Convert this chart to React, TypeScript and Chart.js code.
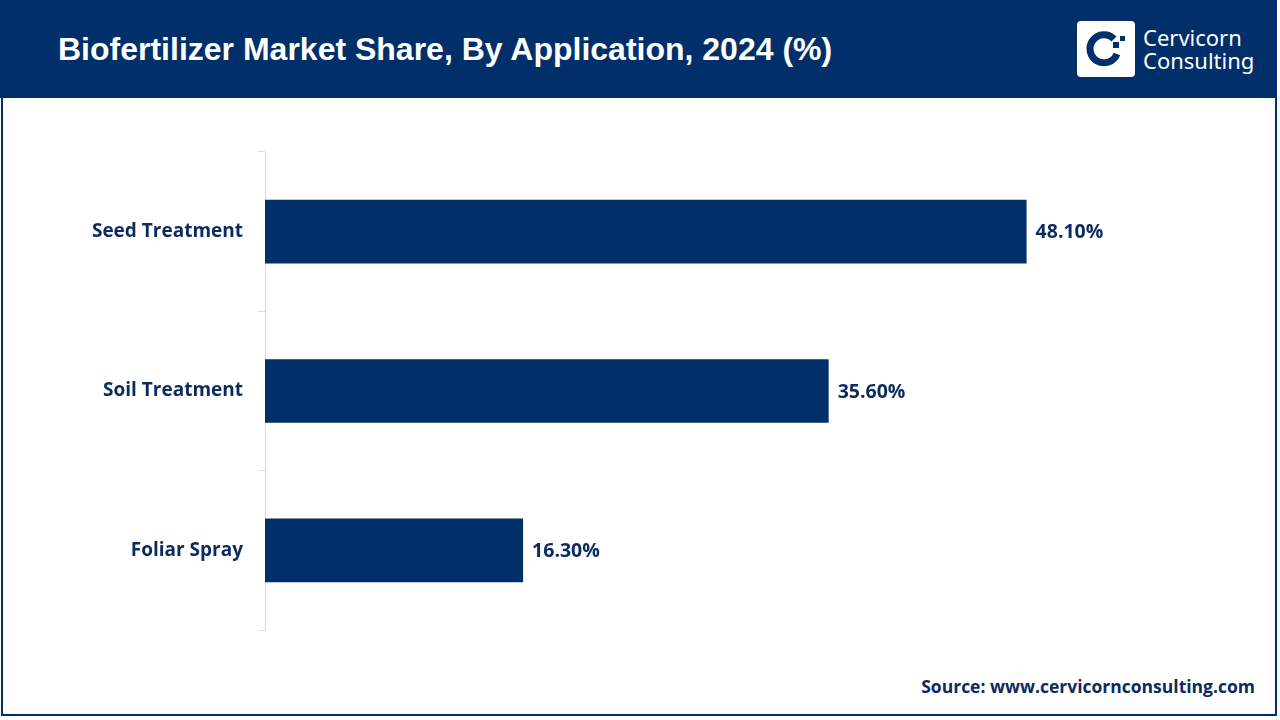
import React, { useEffect, useRef } from "react";
import { Chart, registerables } from "chart.js";

Chart.register(...registerables);

const categories = ["Seed Treatment", "Soil Treatment", "Foliar Spray"];
const shares = [48.1, 35.6, 16.3];
const valueLabels = ["48.10%", "35.60%", "16.30%"];

const NAVY = "#002f6a";
const TEXT = "#0b2b5e";

const barLabelPlugin = {
  id: "barLabels",
  afterDatasetsDraw(chart: any) {
    const ctx = chart.ctx;
    const meta = chart.getDatasetMeta(0);
    ctx.save();
    ctx.font = "bold 19.5px 'Open Sans', sans-serif";
    ctx.fillStyle = TEXT;
    ctx.textAlign = "left";
    ctx.textBaseline = "middle";
    meta.data.forEach((bar: any, i: number) => {
      ctx.fillText(valueLabels[i], bar.x + 9, bar.y + 1);
    });
    ctx.restore();
  },
};

function Logo() {
  return (
    <div style={{ position: "absolute", left: 1077, top: 21, display: "flex", alignItems: "center" }}>
      <div style={{ width: 58, height: 56, background: "#fff", borderRadius: 4, position: "relative" }}>
        <svg width="58" height="56" viewBox="0 0 58 56">
          <path d="M 37 18 A 14 14 0 1 0 40 33" fill="none" stroke={NAVY} strokeWidth="7" />
          <rect x="36" y="21" width="6" height="6" fill={NAVY} />
          <rect x="43" y="15" width="5" height="5" fill={NAVY} />
        </svg>
      </div>
      <div style={{ marginLeft: 8, color: "#fff", fontFamily: "'Noto Sans', sans-serif", fontSize: 22, lineHeight: "23px" }}>
        <div>Cervicorn</div>
        <div>Consulting</div>
      </div>
    </div>
  );
}

export default function App() {
  const canvasRef = useRef<HTMLCanvasElement | null>(null);

  useEffect(() => {
    if (!canvasRef.current) return;
    const chart = new Chart(canvasRef.current, {
      type: "bar",
      data: {
        labels: categories,
        datasets: [
          {
            data: shares,
            backgroundColor: NAVY,
            borderWidth: 0,
            barPercentage: 0.4,
            categoryPercentage: 1,
          },
        ],
      },
      options: {
        indexAxis: "y",
        animation: false,
        responsive: false,
        maintainAspectRatio: false,
        layout: { padding: { top: 52, bottom: 30, left: 0, right: 65 } },
        plugins: {
          legend: { display: false },
          tooltip: { enabled: false },
        },
        scales: {
          x: { display: false, min: 0, max: 60 },
          y: {
            afterFit(scale: any) {
              scale.width = 265;
            },
            grid: {
              drawOnChartArea: false,
              drawTicks: true,
              tickLength: 7,
              color: "#d9d9d9",
              offset: true,
            },
            border: { display: true, color: "#d9d9d9", width: 1 },
            ticks: {
              padding: 15,
              color: TEXT,
              font: { family: "'Open Sans', sans-serif", size: 19, weight: "bold" },
            },
          },
        },
      },
      plugins: [barLabelPlugin],
    });
    return () => chart.destroy();
  }, []);

  return (
    <div style={{ position: "fixed", left: 0, top: 0, width: 1280, height: 720, background: "#fff", overflow: "hidden" }}>
      <div style={{ position: "absolute", left: 1, top: 0, width: 1276, height: 716, border: `2px solid ${NAVY}`, boxSizing: "border-box" }} />
      <div style={{ position: "absolute", left: 0, top: 0, width: 1277, height: 98, background: NAVY }} />
      <div
        style={{
          position: "absolute",
          left: 58,
          top: 31,
          color: "#fff",
          fontFamily: "'Liberation Sans', Arial, sans-serif",
          fontWeight: "bold",
          fontSize: 32,
          lineHeight: "36px",
          whiteSpace: "nowrap",
        }}
      >
        Biofertilizer Market Share, By Application, 2024 (%)
      </div>
      <Logo />
      <canvas ref={canvasRef} width={1280} height={560} style={{ position: "absolute", left: 0, top: 100, width: 1280, height: 560 }} />
      <div
        style={{
          position: "absolute",
          right: 25,
          top: 674,
          color: TEXT,
          fontFamily: "'Open Sans', sans-serif",
          fontWeight: "bold",
          fontSize: 17.5,
          lineHeight: "24px",
          whiteSpace: "nowrap",
        }}
      >
        Source: www.cervicornconsulting.com
      </div>
    </div>
  );
}
